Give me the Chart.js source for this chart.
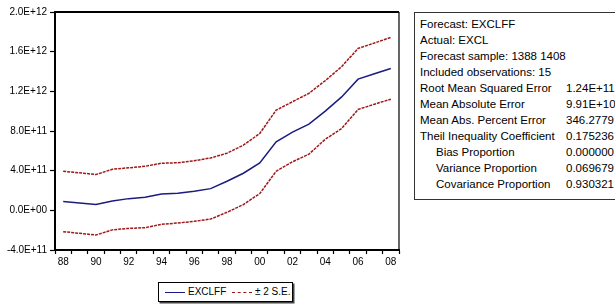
<!DOCTYPE html>
<html>
<head>
<meta charset="utf-8">
<script src="https://cdn.jsdelivr.net/npm/chart.js@4.4.0/dist/chart.umd.min.js"></script>
<style>
  body { margin: 0; background: #fff; width: 615px; height: 305px; overflow: hidden; position: relative; font-family: "Liberation Sans", Arial, sans-serif; }
  #wrap { position: absolute; left: 0; top: 0; width: 410px; height: 275px; }
  #legend { position: absolute; left: 158px; top: 282px; width: 133px; height: 18px; border: 1px solid #000; box-shadow: 1.5px 1.5px 0 #444;
    font: 10px "Liberation Sans", Arial, sans-serif; color: #000; }
  #legend .ln { position: absolute; top: 9px; width: 20px; height: 0; }
  #legend .tx { position: absolute; top: 3px; white-space: nowrap; }
  #stats { position: absolute; left: 414px; top: 12px; width: 215px; height: 186px; border: 1px solid #333; font-size: 11.5px; color: #000; }
  #stats div { position: absolute; white-space: nowrap; }
</style>
</head>
<body>
<div id="wrap"><canvas id="myChart" width="410" height="275"></canvas></div>
<div id="legend">
  <div class="ln" style="left:6px;border-top:1.5px solid #1c1c80"></div><div class="tx" style="left:29px">EXCLFF</div>
  <div class="ln" style="left:73px;border-top:1.5px dashed #a01818"></div><div class="tx" style="left:96px">± 2 S.E.</div>
</div>
<div id="stats"></div>
<script>
let years = ['88','89','90','91','92','93','94','95','96','97','98','99','00','01','02','03','04','05','06','07','08'];
// values in units of 1E+12
let forecast = [0.088,0.073,0.058,0.094,0.118,0.131,0.165,0.172,0.192,0.219,0.293,0.374,0.478,0.690,0.788,0.869,1.000,1.144,1.323,1.378,1.431];
let upper = [0.394,0.378,0.361,0.414,0.429,0.444,0.475,0.480,0.500,0.528,0.576,0.657,0.775,1.010,1.095,1.180,1.308,1.449,1.633,1.687,1.744];
let lower = [-0.215,-0.232,-0.249,-0.197,-0.182,-0.175,-0.141,-0.128,-0.111,-0.088,-0.020,0.058,0.169,0.394,0.490,0.566,0.717,0.825,1.017,1.070,1.121];

let statLabels = ['Forecast: EXCLFF','Actual: EXCL','Forecast sample: 1388 1408','Included observations: 15',
  'Root Mean Squared Error','Mean Absolute Error','Mean Abs. Percent Error','Theil Inequality Coefficient',
  '   Bias Proportion','   Variance Proportion','   Covariance Proportion'];
let statValues = ['','','','','1.24E+11','9.91E+10','346.2779','0.175236','0.000000','0.069679','0.930321'];

let stats = document.querySelector('#stats');
statLabels.forEach((lab, i) => {
  let indent = lab.startsWith('   ') ? 21 : 5;
  stats.innerHTML += `<div style="left:${indent}px;top:${5 + i*16}px">${lab.trim()}</div>`;
  if (statValues[i]) stats.innerHTML += `<div style="left:151px;top:${5 + i*16}px">${statValues[i]}</div>`;
});

const scale = v => v.map(x => x * 1e12);

function sci(v) {
  if (Math.abs(v) < 1) return '0.0E+00';
  let [m, e] = v.toExponential(1).toUpperCase().split('E');
  let sign = e[0] === '-' ? '-' : '+';
  let n = e.replace(/[+-]/, '');
  if (n.length < 2) n = '0' + n;
  return m + 'E' + sign + n;
}

const frame = {
  id: 'frame',
  afterDraw(chart) {
    let a = chart.chartArea, c = chart.ctx;
    c.save();
    c.strokeStyle = '#000';
    c.lineWidth = 2;
    c.beginPath(); c.moveTo(a.left, a.top); c.lineTo(a.right, a.top); c.stroke();
    c.lineWidth = 1.2;
    c.beginPath(); c.moveTo(a.right, a.top); c.lineTo(a.right, a.bottom); c.stroke();
    c.restore();
  }
};

const narrow = '"Liberation Sans Narrow", "Liberation Sans", Arial, sans-serif';

const ctx = document.getElementById('myChart');
new Chart(ctx, {
  type: 'line',
  data: {
    labels: years,
    datasets: [
      { label: 'EXCLFF', data: scale(forecast), borderColor: '#1c1c80', borderWidth: 1.5, pointRadius: 0, tension: 0 },
      { label: '+2 S.E.', data: scale(upper), borderColor: '#a01818', borderWidth: 1.5, borderDash: [3, 1], pointRadius: 0, tension: 0 },
      { label: '-2 S.E.', data: scale(lower), borderColor: '#a01818', borderWidth: 1.5, borderDash: [3, 1], pointRadius: 0, tension: 0 }
    ]
  },
  options: {
    responsive: false,
    animation: false,
    layout: { padding: { top: 12, right: 11, left: 0, bottom: 0 } },
    plugins: { legend: { display: false }, tooltip: { enabled: false } },
    scales: {
      x: {
        offset: true,
        grid: { offset: true, drawOnChartArea: false, tickLength: 4, color: '#000', tickWidth: 1.2 },
        border: { color: '#000', width: 2 },
        ticks: {
          autoSkip: false, maxRotation: 0, padding: 2, color: '#000',
          font: { family: narrow, size: 10 },
          callback: (v, i) => i % 2 === 0 ? years[i] : ''
        },
        afterFit: s => { s.height = 25; }
      },
      y: {
        min: -4e11, max: 2e12,
        grid: { drawOnChartArea: false, tickLength: 5, color: '#000', tickWidth: 1.2 },
        border: { color: '#000', width: 2 },
        ticks: {
          stepSize: 4e11, padding: 3, color: '#000',
          font: { family: narrow, size: 10 },
          callback: v => sci(v)
        },
        afterFit: s => { s.width = 55; }
      }
    }
  },
  plugins: [frame]
});
</script>
</body>
</html>
